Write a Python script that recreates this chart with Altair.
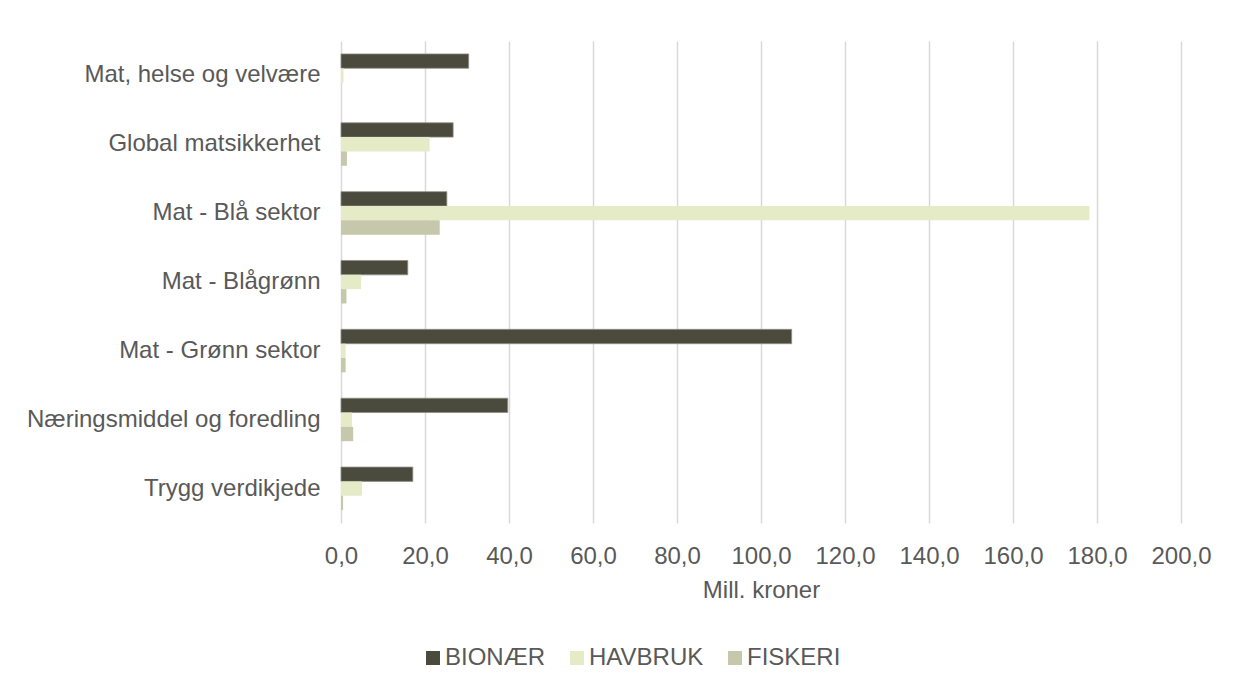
import altair as alt
import pandas as pd

categories = [
    "Mat, helse og velvære",
    "Global matsikkerhet",
    "Mat - Blå sektor",
    "Mat - Blågrønn",
    "Mat - Grønn sektor",
    "Næringsmiddel og foredling",
    "Trygg verdikjede",
]
series = ["BIONÆR", "HAVBRUK", "FISKERI"]
bionaer = [30.4, 26.7, 25.2, 15.9, 107.3, 39.7, 17.1]
havbruk = [0.6, 21.1, 178.2, 4.8, 1.1, 2.6, 5.0]
fiskeri = [0.0, 1.4, 23.5, 1.3, 1.1, 2.9, 0.5]
x_ticks = [0, 20, 40, 60, 80, 100, 120, 140, 160, 180, 200]
colors = ["#4a4b3c", "#e5ebc7", "#c5c8aa"]

rows = []
for name, vals in zip(series, [bionaer, havbruk, fiskeri]):
    for c, v in zip(categories, vals):
        rows.append({"Kategori": c, "Serie": name, "Verdi": v})
df = pd.DataFrame(rows)

FONT = "Liberation Sans"
TXT = "#595959"
FS = 24

chart = (
    alt.Chart(df)
    .mark_bar(stroke="#8f8f86")
    .encode(
        y=alt.Y(
            "Kategori:N",
            sort=categories,
            title=None,
            scale=alt.Scale(paddingInner=0.3755, paddingOuter=0.1878),
            axis=alt.Axis(
                ticks=False,
                tickSize=0,
                domain=False,
                grid=False,
                labelPadding=21,
                labelLimit=400,
                minExtent=328,
                maxExtent=328,
                labelFont=FONT,
                labelFontSize=FS,
                labelColor=TXT,
            ),
        ),
        yOffset=alt.YOffset("Serie:N", sort=series, scale=alt.Scale(paddingInner=0, paddingOuter=0)),
        x=alt.X(
            "Verdi:Q",
            scale=alt.Scale(domain=[0, 200], nice=False),
            title="Mill. kroner",
            axis=alt.Axis(
                values=x_ticks,
                labelExpr="replace(format(datum.value, '.1f'), '.', ',')",
                labelOverlap=False,
                labelFlush=False,
                ticks=False,
                tickSize=0,
                domain=False,
                grid=True,
                gridColor="#d9d9d9",
                gridWidth=1.5,
                labelPadding=21,
                labelFont=FONT,
                labelFontSize=FS,
                labelColor=TXT,
                titleFont=FONT,
                titleFontSize=FS,
                titleFontWeight="normal",
                titleColor=TXT,
                titlePadding=10,
            ),
        ),
        color=alt.Color(
            "Serie:N",
            sort=series,
            scale=alt.Scale(domain=series, range=colors),
            legend=alt.Legend(
                title=None,
                orient="none",
                direction="horizontal",
                legendX=80,
                legendY=605,
                symbolType="square",
                symbolSize=196,
                symbolStrokeWidth=0,
                symbolOpacity=1,
                labelFont=FONT,
                labelFontSize=FS,
                labelColor=TXT,
                labelOffset=0,
                columnPadding=19,
            ),
        ),
        strokeWidth=alt.condition(alt.datum.Serie == "BIONÆR", alt.value(0.8), alt.value(0)),
    )
    .properties(
        width=840,
        height=482,
        padding={"left": 5, "top": 33, "right": 2, "bottom": 10},
        background="white",
    )
    .configure_view(stroke=None)
)

chart.save("out.html", embed_options={"renderer": "svg", "actions": False})
